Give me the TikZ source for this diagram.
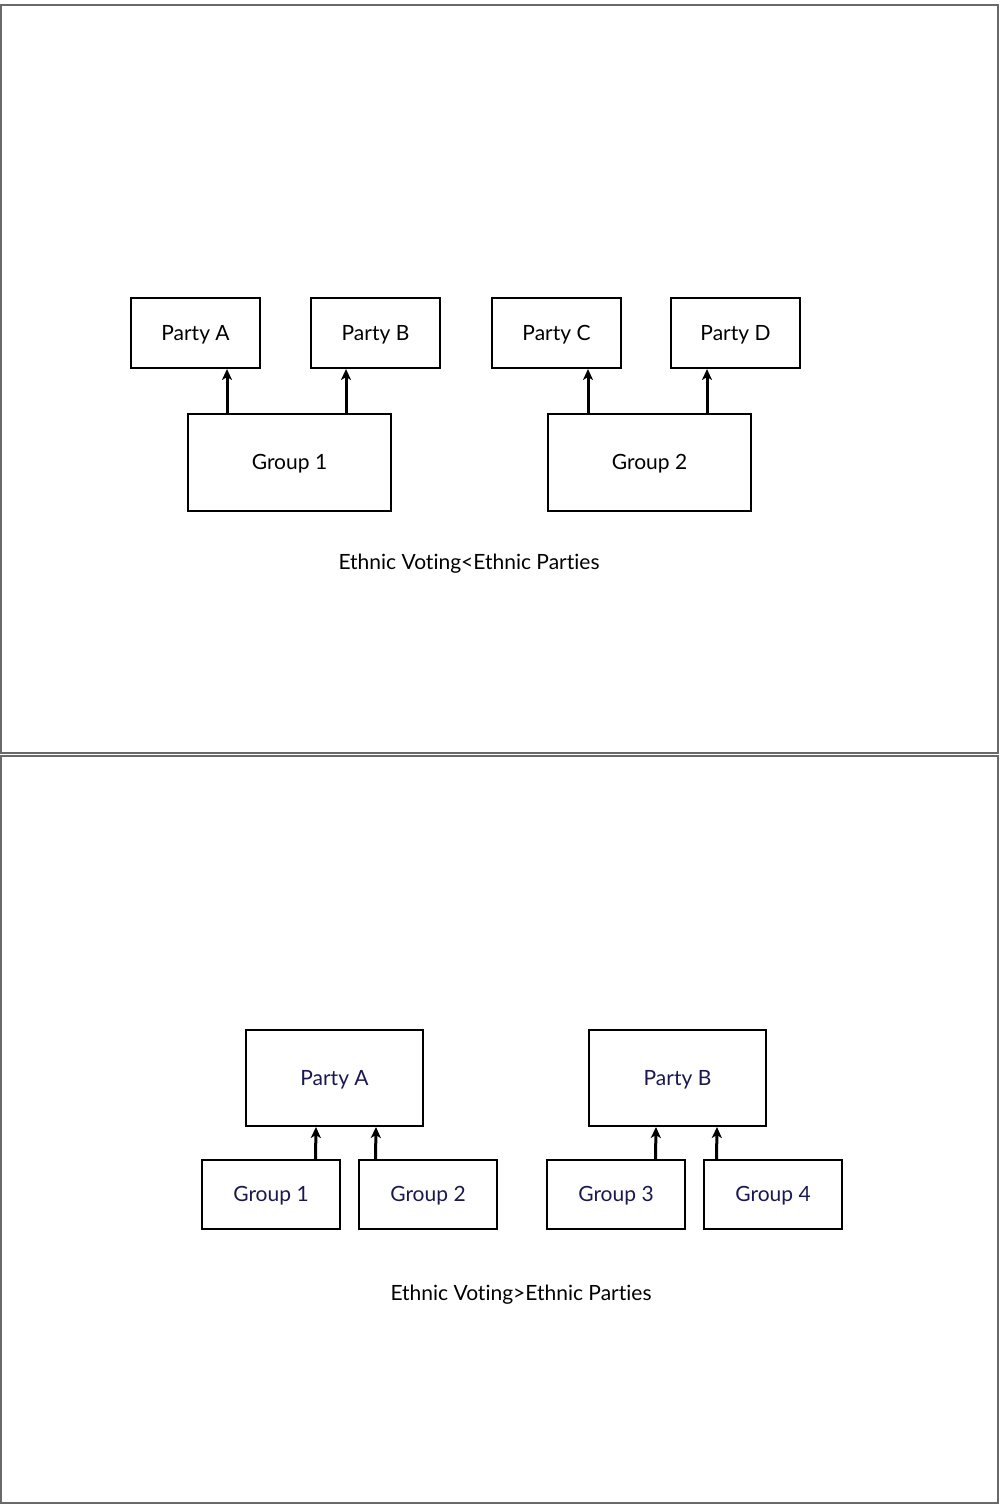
\documentclass[tikz,border=0pt]{standalone}
\usepackage{fontspec}
\setmainfont{Lato}[Ligatures={NoCommon}]
\usetikzlibrary{arrows.meta}
\definecolor{navy}{RGB}{25,25,80}
\definecolor{framegray}{RGB}{105,105,105}
\tikzset{
  slide/.style={draw=framegray, line width=2pt},
  box/.style={draw=black, line width=2pt, inner sep=0pt, text height=15pt, text depth=1pt, font=\fontsize{21}{25}\selectfont},
  con/.style={line width=3pt, -{Stealth[length=11pt,width=10pt,inset=3pt]}},
  captxt/.style={font=\fontsize{21}{25}\selectfont, inner sep=0pt, text height=15pt, text depth=1pt}
}
\begin{document}
\begin{tikzpicture}[x=1pt,y=-1pt]
\useasboundingbox (0,0) rectangle (999,1505);
% slide frames
\draw[slide] (1,4.5) rectangle (998,752.5);
\draw[slide] (1,755.5) rectangle (998,1503);
% top slide
\node[box, minimum width=129pt, minimum height=70pt] (pa) at (195.5,333) {Party A};
\node[box, minimum width=129pt, minimum height=70pt] (pb) at (375.5,333) {Party B};
\node[box, minimum width=129pt, minimum height=70pt] (pc) at (556.5,333) {Party C};
\node[box, minimum width=129pt, minimum height=70pt] (pd) at (735.5,333) {Party D};
\node[box, minimum width=203pt, minimum height=97pt] (g1) at (289.5,462.5) {Group 1};
\node[box, minimum width=203pt, minimum height=97pt] (g2) at (649.5,462.5) {Group 2};
\draw[con] (g1.north -| 227,0) -- (pa.south -| 227,0);
\draw[con] (g1.north -| 346,0) -- (pb.south -| 346,0);
\draw[con] (g2.north -| 588,0) -- (pc.south -| 588,0);
\draw[con] (g2.north -| 707,0) -- (pd.south -| 707,0);
\node[captxt] (c1) at (469,562) {Ethnic Voting<Ethnic Parties};
% bottom slide
\node[box, text=navy, minimum width=177pt, minimum height=96pt] (qa) at (334.5,1078) {Party A};
\node[box, text=navy, minimum width=177pt, minimum height=96pt] (qb) at (677.5,1078) {Party B};
\node[box, text=navy, minimum width=138pt, minimum height=69pt] (h1) at (271,1194.5) {Group 1};
\node[box, text=navy, minimum width=138pt, minimum height=69pt] (h2) at (428,1194.5) {Group 2};
\node[box, text=navy, minimum width=138pt, minimum height=69pt] (h3) at (616,1194.5) {Group 3};
\node[box, text=navy, minimum width=138pt, minimum height=69pt] (h4) at (773,1194.5) {Group 4};
\draw[con] (h1.north -| 315.5,0) -- (qa.south -| 316,0);
\draw[con] (h2.north -| 375.5,0) -- (qa.south -| 376,0);
\draw[con] (h3.north -| 655.5,0) -- (qb.south -| 656,0);
\draw[con] (h4.north -| 716.5,0) -- (qb.south -| 717,0);
\node[captxt] (c2) at (521,1293) {Ethnic Voting>Ethnic Parties};
\end{tikzpicture}
\end{document}
